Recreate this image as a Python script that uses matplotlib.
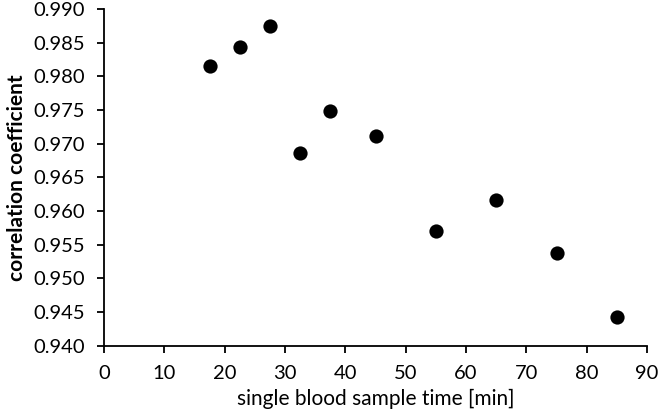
import matplotlib
matplotlib.use("Agg")
import matplotlib.pyplot as plt

# sample time [min] vs correlation coefficient
sample_time = [17.5, 22.5, 27.5, 32.5, 37.5, 45, 55, 65, 75, 85]
corr_coef = [0.9815, 0.9844, 0.9875, 0.9687, 0.9748, 0.9711, 0.9570, 0.9616, 0.9538, 0.9443]

x_ticks = list(range(0, 91, 10))
y_ticks = [0.940, 0.945, 0.950, 0.955, 0.960, 0.965, 0.970, 0.975, 0.980, 0.985, 0.990]

plt.rcParams['font.family'] = ['Lato', 'DejaVu Sans']

fig = plt.figure(figsize=(6.6, 4.17), dpi=100)
ax = fig.add_axes([0.1576, 0.171, 0.8227, 0.807])

ax.scatter(sample_time, corr_coef, s=105, color='black', zorder=3, linewidths=0)

ax.set_xlim(0, 90)
ax.set_ylim(0.940, 0.990)
ax.set_xticks(x_ticks)
ax.set_yticks(y_ticks)
ax.set_yticklabels(["%.3f" % v for v in y_ticks])

for side in ['top', 'right']:
    ax.spines[side].set_visible(False)
for side in ['left', 'bottom']:
    ax.spines[side].set_linewidth(1.3)

ax.tick_params(direction='out', length=5, width=1.3, labelsize=14.5, colors='black')
ax.tick_params(axis='x', pad=9)
ax.tick_params(axis='y', pad=9)

ax.set_xlabel('single blood sample time [min]', fontsize=15, labelpad=5)
ax.set_ylabel('correlation coefficient', fontsize=15, fontweight='bold', labelpad=4)

fig.savefig('out.png', dpi=100)
